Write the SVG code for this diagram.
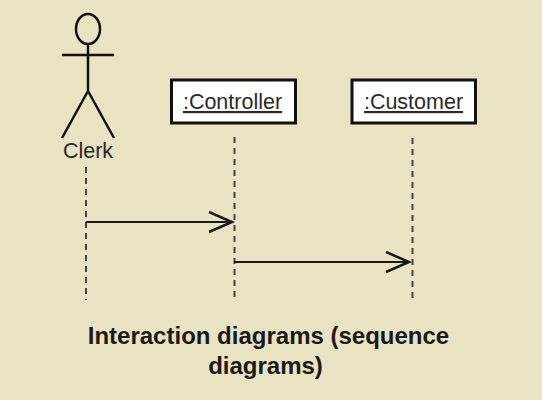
<svg xmlns="http://www.w3.org/2000/svg" width="542" height="400" viewBox="0 0 542 400">
<defs>
<style>
.ink{fill:none;stroke:#111;stroke-width:2.5}
.box{fill:#fff;stroke:#111;stroke-width:3}
.life{fill:none;stroke:#444;stroke-width:2;stroke-dasharray:6 5}
.msg{fill:none;stroke:#1a1a1a;stroke-width:2}
.label{font-family:"Liberation Sans",Arial,sans-serif;font-size:21.500px;fill:#2a2a2a;text-anchor:middle}
.title{font-family:"Liberation Sans",Arial,sans-serif;font-size:24px;font-weight:bold;fill:#1a1a1a;text-anchor:middle}
</style>
<marker id="open" markerUnits="userSpaceOnUse" markerWidth="28" markerHeight="24" refX="24" refY="12" orient="auto">
<path d="M1 2 L24 12 L1 22" fill="none" stroke="#1a1a1a" stroke-width="2.5"/>
</marker>
</defs>
<rect width="542" height="400" fill="#e9e3c3"/>
<g id="connectors">
<line class="life" x1="86" y1="167" x2="86" y2="300"/>
<line class="life" x1="234.500" y1="137" x2="234.500" y2="299"/>
<line class="life" x1="412.500" y1="138" x2="412.500" y2="300"/>
<line class="msg" x1="86" y1="222" x2="232" y2="222" marker-end="url(#open)"/>
<line class="msg" x1="234" y1="262" x2="409" y2="262" marker-end="url(#open)"/>
</g>
<g id="clerk">
<ellipse class="ink" cx="88" cy="29" rx="12" ry="15"/>
<path class="ink" d="M62 55 H114 M88 44 V91 M62 138 L88 91 L114 138"/>
<text class="label" x="88" y="158">Clerk</text>
</g>
<g id="controller">
<rect class="box" x="171.500" y="80" width="124" height="43"/>
<text class="label" x="232.500" y="109" text-decoration="underline">:Controller</text>
</g>
<g id="customer">
<rect class="box" x="352" y="80" width="123.500" height="43"/>
<text class="label" x="413.500" y="109" text-decoration="underline">:Customer</text>
</g>
<g id="caption">
<text class="title" x="268.500" y="344">Interaction diagrams (sequence</text>
<text class="title" x="265.500" y="374">diagrams)</text>
</g>
</svg>
